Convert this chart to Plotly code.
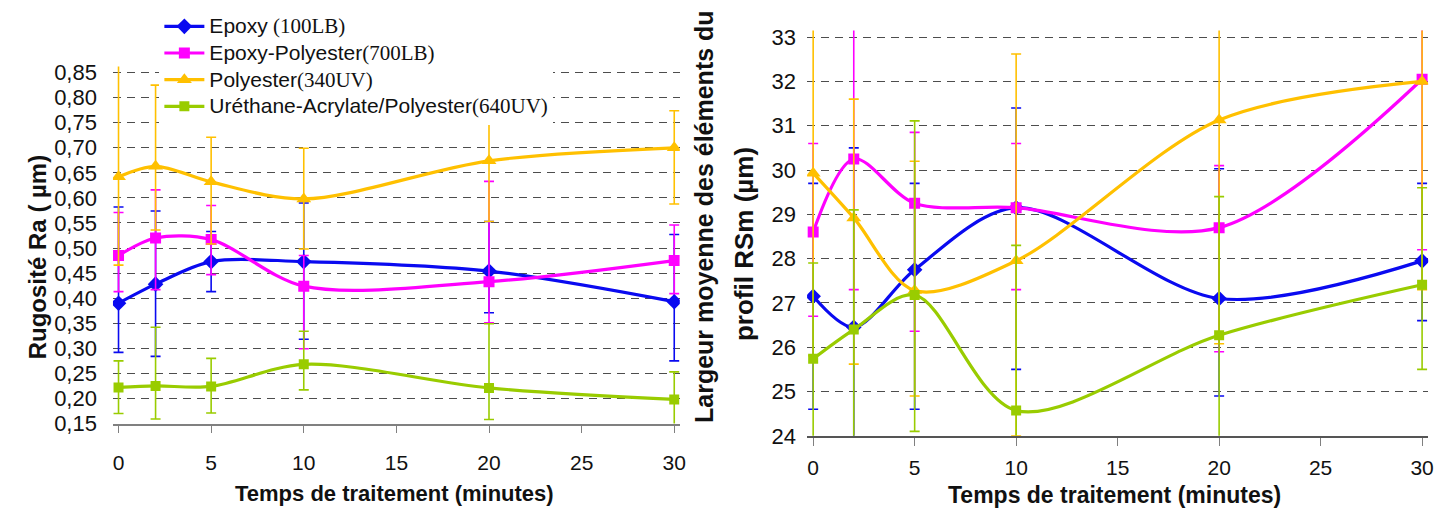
import plotly.graph_objects as go

W, H = 1447, 513

# ---------------- data ----------------
time = [0, 2, 5, 10, 20, 30]
x_ticks = [0, 5, 10, 15, 20, 25, 30]

names = ["Epoxy", "Epoxy-Polyester", "Polyester", "Uréthane-Acrylate/Polyester"]
codes = [" (100LB)", "(700LB)", "(340UV)", "(640UV)"]
colors = ["#0A0AF0", "#FF00FF", "#FFC000", "#99CC00"]
symbols = ["diamond", "square", "triangle-up", "square"]

# Left chart: roughness Ra (µm)
ra_epoxy = [0.39, 0.428, 0.473, 0.473, 0.454, 0.393]
ra_epoxy_hi = [0.582, 0.574, 0.533, 0.59, 0.553, 0.527]
ra_epoxy_lo = [0.292, 0.284, 0.413, 0.318, 0.371, 0.275]

ra_epoly = [0.485, 0.52, 0.517, 0.424, 0.433, 0.475]
ra_epoly_hi = [0.571, 0.616, 0.585, 0.485, 0.633, 0.546]
ra_epoly_lo = [0.413, 0.417, 0.447, 0.299, 0.351, 0.409]

ra_poly = [0.642, 0.663, 0.632, 0.598, 0.674, 0.70]
ra_poly_hi = [0.87, 0.825, 0.721, 0.699, 0.812, 0.774]
ra_poly_lo = [0.466, 0.536, 0.508, 0.498, 0.553, 0.588]

ra_ure = [0.222, 0.225, 0.224, 0.268, 0.221, 0.198]
ra_ure_hi = [0.275, 0.342, 0.28, 0.334, 0.349, 0.253]
ra_ure_lo = [0.17, 0.159, 0.171, 0.217, 0.158, 0.14]

# Right chart: RSm (µm)
rsm_epoxy = [27.15, 26.45, 27.75, 29.15, 27.1, 27.95]
rsm_epoxy_hi = [29.7, 30.5, 29.7, 31.4, 30.03, 29.7]
rsm_epoxy_lo = [24.6, 22.4, 24.6, 25.5, 24.9, 26.6]

rsm_epoly = [28.6, 30.25, 29.25, 29.15, 28.7, 32.05]
rsm_epoly_hi = [30.6, 33.2, 30.85, 30.6, 30.1, 35.9]
rsm_epoly_lo = [26.7, 27.3, 26.36, 27.3, 25.9, 28.2]

rsm_poly = [29.93, 28.92, 27.28, 27.95, 31.13, 32.0]
rsm_poly_hi = [34.0, 31.6, 30.2, 32.62, 36.2, 36.7]
rsm_poly_lo = [25.81, 25.62, 24.9, 24.0, 26.08, 27.3]

rsm_ure = [25.74, 26.4, 27.18, 24.57, 26.27, 27.41]
rsm_ure_hi = [27.9, 29.1, 31.11, 28.3, 29.4, 29.6]
rsm_ure_lo = [23.6, 23.88, 24.1, 20.9, 23.2, 25.5]

ra_sets = [(ra_epoxy, ra_epoxy_hi, ra_epoxy_lo), (ra_epoly, ra_epoly_hi, ra_epoly_lo),
           (ra_poly, ra_poly_hi, ra_poly_lo), (ra_ure, ra_ure_hi, ra_ure_lo)]
rsm_sets = [(rsm_epoxy, rsm_epoxy_hi, rsm_epoxy_lo), (rsm_epoly, rsm_epoly_hi, rsm_epoly_lo),
            (rsm_poly, rsm_poly_hi, rsm_poly_lo), (rsm_ure, rsm_ure_hi, rsm_ure_lo)]

SANS = "Liberation Sans"
SERIF = "Liberation Serif"
msizes = [12, 11, 13, 10]

fig = go.Figure()


def add_series(sets, xa, ya, legend):
    for i, (vals, hi, lo) in enumerate(sets):
        plus = [h - v for h, v in zip(hi, vals)]
        minus = [v - l for v, l in zip(vals, lo)]
        fig.add_trace(go.Scatter(
            x=time, y=vals, xaxis=xa, yaxis=ya,
            mode="lines+markers",
            name=(f"<span style='font-size:21px'>{names[i]}</span>"
                  f"<span style='font-family:{SERIF};font-size:21px'>{codes[i]}</span>"),
            showlegend=legend,
            line=dict(color=colors[i], width=3.2, shape="spline", smoothing=0.9),
            marker=dict(symbol=symbols[i], size=msizes[i], color=colors[i]),
            error_y=dict(type="data", symmetric=False, array=plus, arrayminus=minus,
                         color=colors[i], thickness=1.6, width=5),
        ))


add_series(ra_sets, "x", "y", True)
add_series(rsm_sets, "x2", "y2", False)


def px_x(p):
    return p / W


def px_y(p):
    return 1 - p / H


grid = dict(showgrid=True, gridcolor="#4d4d4d", gridwidth=1, griddash="8px,6px",
            zeroline=False, showline=False, ticks="")
xcommon = dict(range=[-0.3, 30.3], tickvals=x_ticks, ticks="outside", ticklen=8,
               tickcolor="#808080", showline=True, linewidth=1.5,
               showgrid=False, zeroline=False,
               tickfont=dict(family=SANS, size=21, color="#111"))

fig.update_layout(
    width=W, height=H,
    margin=dict(l=0, r=0, t=0, b=0),
    paper_bgcolor="white", plot_bgcolor="white",
    separators=", ",
    xaxis=dict(domain=[px_x(105.4), px_x(674.6)], anchor="y", ticklabelstandoff=12,
               linecolor="#808080", **xcommon),
    yaxis=dict(domain=[px_y(424), px_y(48)], range=[0.15, 0.862], tickvals=[0.15 + 0.05 * k for k in range(15)],
               tickformat=".2f", anchor="x", ticklabelstandoff=15,
               tickfont=dict(family=SANS, size=22, color="#111"), **grid),
    xaxis2=dict(domain=[px_x(802.4), px_x(1426.1)], anchor="y2", ticklabelstandoff=4,
                linecolor="#555555", **xcommon),
    yaxis2=dict(domain=[px_y(437), px_y(10)], range=[24, 33.15], dtick=1, anchor="x2",
                ticklabelstandoff=10, tickfont=dict(family=SANS, size=22, color="#111"), **grid),
    legend=dict(x=px_x(152), y=px_y(-14), xanchor="left", yanchor="top",
                bgcolor="white", borderwidth=0, tracegroupgap=0,
                font=dict(family=SANS, size=18.2, color="#111"), itemwidth=40),
    showlegend=True,
)

ann = [
    dict(text="<b>Rugosité Ra ( µm)</b>", x=px_x(30), y=px_y(248), textangle=-90,
         font=dict(family=SANS, size=24, color="#111")),
    dict(text="<b>Temps de traitement (minutes)</b>", x=px_x(388), y=px_y(498),
         font=dict(family=SANS, size=22, color="#111")),
    dict(text="<b>Temps de traitement (minutes)</b>", x=px_x(1111), y=px_y(499),
         font=dict(family=SANS, size=23, color="#111")),
    dict(text="<b>Largeur moyenne des éléments du</b>", x=px_x(699), y=px_y(426), textangle=-90,
         yanchor="bottom", font=dict(family=SANS, size=25, color="#111")),
    dict(text="<b>profil RSm (µm)</b>", x=px_x(739), y=px_y(235), textangle=-90,
         font=dict(family=SANS, size=26, color="#111")),
]
for a in ann:
    a.update(xref="paper", yref="paper", showarrow=False)
    a.setdefault("xanchor", "center")
    a.setdefault("yanchor", "middle")
fig.update_layout(annotations=ann)

fig.write_html("out.html")
